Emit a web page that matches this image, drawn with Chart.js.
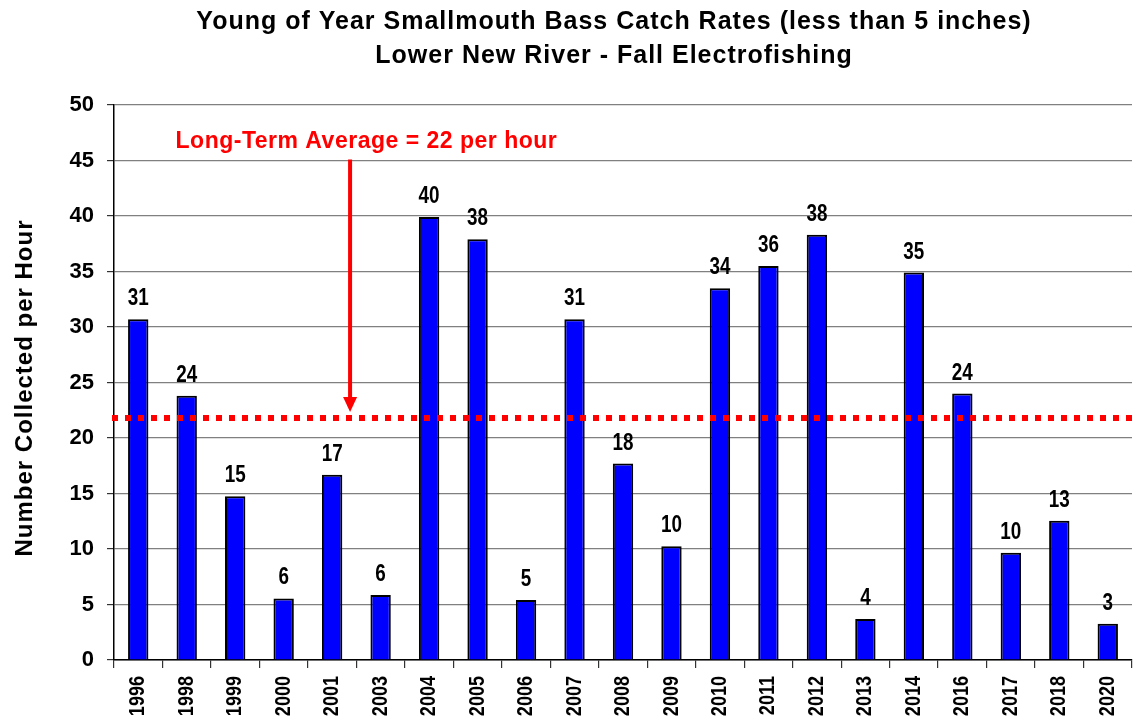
<!DOCTYPE html>
<html>
<head>
<meta charset="utf-8">
<title>Young of Year Smallmouth Bass Catch Rates</title>
<script src="https://cdn.jsdelivr.net/npm/chart.js@4.4.1/dist/chart.umd.min.js"></script>
<style>
    body { margin: 0; background: #fff; }
    #chart { display: block; }
</style>
</head>
<body>
<canvas id="chart" width="1133" height="719"></canvas>
<script>
// 데이터
const years = ['1996', '1998', '1999', '2000', '2001', '2003', '2004', '2005', '2006', '2007', '2008',
    '2009', '2010', '2011', '2012', '2013', '2014', '2016', '2017', '2018', '2020'];
const catchRates = [30.7, 23.8, 14.75, 5.55, 16.7, 5.85, 39.9, 37.9, 5.4, 30.7, 17.7,
    10.25, 33.5, 35.5, 38.3, 3.7, 34.9, 24.0, 9.67, 12.55, 3.27];
const valueLabels = ['31', '24', '15', '6', '17', '6', '40', '38', '5', '31', '18',
    '10', '34', '36', '38', '4', '35', '24', '10', '13', '3'];
const longTermAverage = 21.8;
const averageText = 'Long-Term Average = 22 per hour';
const titleLines = [
    'Young of Year Smallmouth Bass Catch Rates (less than 5 inches)',
    'Lower New River - Fall Electrofishing'
];
const yAxisTitle = 'Number Collected per Hour';

const FONT = 'Arial, "Liberation Sans", sans-serif';
const NARROW_SCALE = 0.82; // Arial Narrow 흉내

// 좁은 글꼴처럼 가로로 눌러서 그리기
function fillNarrow(ctx, text, x, y) {
    ctx.save();
    ctx.translate(x, y);
    ctx.scale(NARROW_SCALE, 1);
    ctx.fillText(text, 0, 0);
    ctx.restore();
}

// 주석 플러그인 (평균선, 화살표, 값 라벨, 제목, x축 라벨)
const annotations = {
    id: 'annotations',
    afterDatasetsDraw(chart) {
        const { ctx, chartArea, scales: { x, y } } = chart;
        ctx.save();

        // 막대 위 값 라벨
        ctx.font = 'bold 23px ' + FONT;
        ctx.fillStyle = '#000';
        ctx.textAlign = 'center';
        ctx.textBaseline = 'alphabetic';
        chart.getDatasetMeta(0).data.forEach((bar, i) => {
            fillNarrow(ctx, valueLabels[i], bar.x, bar.y - 14);
        });

        // x축 연도 라벨 (세로)
        ctx.font = 'bold 22px ' + FONT;
        ctx.textAlign = 'right';
        ctx.textBaseline = 'middle';
        years.forEach((label, i) => {
            ctx.save();
            ctx.translate(x.getPixelForValue(i), chartArea.bottom + 16);
            ctx.rotate(-Math.PI / 2);
            fillNarrow(ctx, label, 0, 0);
            ctx.restore();
        });

        // 장기 평균 점선
        const avgY = y.getPixelForValue(longTermAverage);
        ctx.strokeStyle = '#ff0000';
        ctx.lineWidth = 6;
        ctx.setLineDash([6, 7]);
        ctx.beginPath();
        ctx.moveTo(chartArea.left - 2, avgY);
        ctx.lineTo(chartArea.right, avgY);
        ctx.stroke();
        ctx.setLineDash([]);

        // 화살표
        const ax = x.getPixelForValue(4.37);
        const top = y.getPixelForValue(45.1);
        const tip = avgY - 6;
        ctx.lineWidth = 4;
        ctx.beginPath();
        ctx.moveTo(ax, top);
        ctx.lineTo(ax, tip - 12);
        ctx.stroke();
        ctx.fillStyle = '#ff0000';
        ctx.beginPath();
        ctx.moveTo(ax - 7, tip - 15);
        ctx.lineTo(ax + 7, tip - 15);
        ctx.lineTo(ax, tip);
        ctx.closePath();
        ctx.fill();

        // 평균 텍스트
        ctx.font = 'bold 23px ' + FONT;
        ctx.letterSpacing = '0.5px';
        ctx.textAlign = 'left';
        ctx.textBaseline = 'alphabetic';
        ctx.fillText(averageText, x.getPixelForValue(0.77), y.getPixelForValue(46.1));

        ctx.restore();
    },
    afterDraw(chart) {
        const { ctx } = chart;
        ctx.save();
        ctx.fillStyle = '#000';
        ctx.textAlign = 'center';
        ctx.textBaseline = 'alphabetic';
        ctx.font = 'bold 25px ' + FONT;
        ctx.letterSpacing = '1px';
        ctx.fillText(titleLines[0], 614, 29);
        ctx.fillText(titleLines[1], 614, 63);

        // y축 제목
        ctx.font = 'bold 24px ' + FONT;
        ctx.translate(32, 388);
        ctx.rotate(-Math.PI / 2);
        ctx.fillText(yAxisTitle, 0, 0);
        ctx.restore();
    }
};

new Chart(document.getElementById('chart'), {
    type: 'bar',
    data: {
        labels: years,
        datasets: [{
            data: catchRates,
            backgroundColor: '#0000ff',
            borderColor: '#000',
            borderWidth: 2,
            categoryPercentage: 1,
            barPercentage: 0.42
        }]
    },
    options: {
        responsive: false,
        animation: false,
        layout: { padding: { top: 105, right: 1, bottom: 0, left: 0 } },
        plugins: {
            legend: { display: false },
            tooltip: { enabled: false }
        },
        scales: {
            x: {
                offset: true,
                grid: {
                    offset: true,
                    drawOnChartArea: false,
                    tickLength: 8,
                    color: '#333',
                    lineWidth: 1.2
                },
                border: { color: '#000', width: 1.5 },
                ticks: { display: false, autoSkip: false },
                afterFit(scale) { scale.height = 59; }
            },
            y: {
                min: 0,
                max: 50,
                ticks: {
                    stepSize: 5,
                    color: '#000',
                    font: { family: FONT, size: 22, weight: 'bold' },
                    padding: 13
                },
                grid: {
                    color: '#808080',
                    lineWidth: 1.2,
                    tickLength: 7,
                    tickColor: '#333'
                },
                border: { color: '#000', width: 1.5 },
                afterFit(scale) { scale.width = 114; }
            }
        }
    },
    plugins: [annotations]
});
</script>
</body>
</html>
